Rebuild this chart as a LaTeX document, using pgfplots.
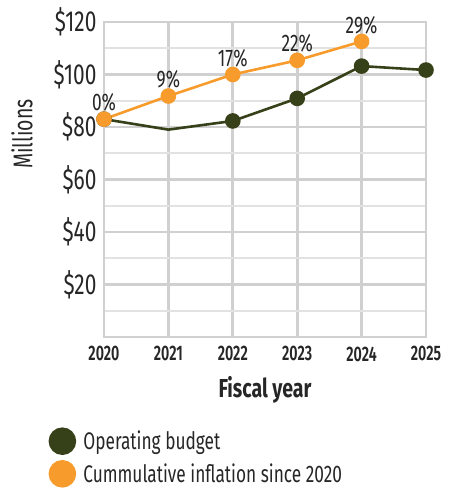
\documentclass[border=0pt]{standalone}
\usepackage{pgfplots}
\pgfplotsset{compat=1.18}
\usepackage{fontspec}
\setmainfont{Fira Sans}[FakeStretch=0.72]
\newfontfamily\semib{Fira Sans SemiBold}[FakeStretch=0.68]
\newfontfamily\boldf{Fira Sans Bold}[FakeStretch=0.75]
\definecolor{budget}{HTML}{374119}
\definecolor{infl}{HTML}{F79C2C}
\definecolor{gridmaj}{HTML}{D0D0D0}
\definecolor{gridmin}{HTML}{E2E2E2}
\begin{document}
\begin{tikzpicture}
\path[use as bounding box] (0pt,0pt) rectangle (452pt,488pt);
\begin{axis}[
    at={(104pt,151pt)}, anchor=south west,
    scale only axis,
    width=322pt, height=315pt,
    xmin=2020, xmax=2025,
    ymin=0, ymax=120,
    xtick={2020,...,2025},
    xticklabels={2020,2021,2022,2023,2024,2025},
    ytick={20,40,60,80,100,120},
    yticklabels={\$20,\$40,\$60,\$80,\$100,\$120},
    minor ytick={10,30,50,70,90,110},
    grid=both,
    major grid style={gridmaj, line width=2.8pt},
    minor grid style={gridmin, line width=2.4pt},
    axis line style={gridmaj, line width=2.8pt},
    tick style={draw=none},
    x tick label style={font=\semib\fontsize{21}{21}\selectfont, text=black!85, yshift=-6pt},
    y tick label style={font=\fontsize{29}{29}\selectfont, text=black!85, xshift=-4pt},
    xlabel={\boldf Fiscal year},
    xlabel style={font=\fontsize{26}{26}\selectfont, text=black!85, at={(axis description cs:0.5,-0.168)}, anchor=center},
    ylabel={Millions},
    ylabel style={font=\fontsize{27}{27}\selectfont, text=black!85, at={(axis description cs:-0.255,0.644)}, anchor=center},
    clip=false,
    legend style={at={(axis description cs:-0.182,-0.28)}, anchor=north west, draw=none, fill=none,
        font=\fontsize{24}{24}\selectfont, text=black!85, row sep=5pt},
    legend cell align=left,
    legend image code/.code={\fill[#1] (0pt,0pt) circle (12.5pt); \path[draw=none, fill=none] (-12.5pt,0pt) rectangle (19pt,0pt);},
]
\addplot[budget, line width=2.6pt, mark=*, mark size=6.5pt, mark indices={1,3,4,5,6}, mark options={solid}]
  coordinates {(2020,83) (2021,79) (2022,82.3) (2023,90.9) (2024,103.2) (2025,101.7)};
\addlegendentry{Operating budget}
\addplot[infl, line width=2.6pt, mark=*, mark size=6.5pt,
    nodes near coords, point meta=explicit symbolic,
    every node near coord/.append style={font=\fontsize{24}{24}\selectfont, text=black!85, anchor=south, yshift=3pt}]
  coordinates {(2020,83)[0\%] (2021,91.8)[9\%] (2022,100)[17\%] (2023,105.4)[22\%] (2024,112.6)[29\%]};
\addlegendentry{Cummulative inflation since 2020}
\end{axis}
\end{tikzpicture}
\end{document}
